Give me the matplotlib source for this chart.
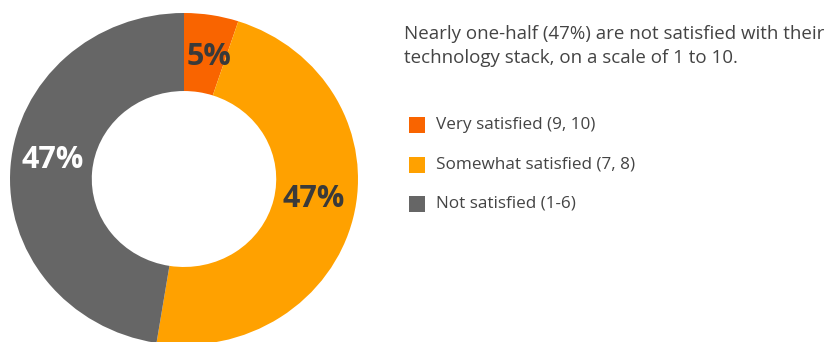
import matplotlib
matplotlib.use("Agg")
import matplotlib.pyplot as plt
from matplotlib.patches import Rectangle

categories = ["Very satisfied (9, 10)", "Somewhat satisfied (7, 8)", "Not satisfied (1-6)"]
values = [5, 47, 47]
labels = ["5%", "47%", "47%"]
colors = ["#F96400", "#FFA100", "#666666"]
label_colors = ["#3a3a3a", "#3a3a3a", "#ffffff"]
headline = "Nearly one-half (47%) are not satisfied with their\ntechnology stack, on a scale of 1 to 10."

W, H = 833, 342
fig = plt.figure(figsize=(W / 100, H / 100), dpi=100)
fig.patch.set_facecolor("white")

# donut axes, placed in pixel units
x0, x1, ytop, ybot = 10, 358, 13, 345
ax = fig.add_axes([x0 / W, (H - ybot) / H, (x1 - x0) / W, (ybot - ytop) / H])
wedges, _ = ax.pie(values, colors=colors, startangle=90, counterclock=False,
                   radius=1.0, wedgeprops=dict(width=0.47, linewidth=0))
ax.set_aspect("auto")
ax.set_xlim(-1, 1)
ax.set_ylim(-1, 1)
ax.axis("off")

# label positions in pixel coords of the figure
label_px = [(209, 57), (314, 199), (53, 160)]
for (px, py), txt, c in zip(label_px, labels, label_colors):
    fig.text(px / W, (H - py) / H, txt, ha="center", va="center",
             fontsize=22, fontweight="bold", color=c, family="Open Sans")

fig.text(404 / W, (H - 25) / H, headline, ha="left", va="top", fontsize=13.5,
         color="#444444", family="Open Sans", linespacing=1.45)

rows = [125, 165, 204]
for y, cat, col in zip(rows, categories, colors):
    fig.patches.append(Rectangle((409 / W, (H - y - 8) / H), 16 / W, 16 / H,
                                 transform=fig.transFigure, facecolor=col,
                                 edgecolor="none"))
    fig.text(436 / W, (H - y) / H, cat, ha="left", va="center", fontsize=12.3,
             color="#444444", family="Open Sans")

fig.savefig("out.png", dpi=100, facecolor="white")
